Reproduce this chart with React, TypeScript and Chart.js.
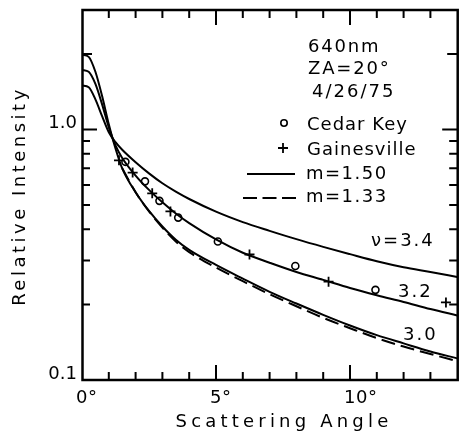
import React, { useEffect, useRef } from "react";
import { Chart, registerables } from "chart.js";

Chart.register(...registerables);

// Scattering angle (degrees) at which the model curves are tabulated
const angles = [0, 0.25, 0.5, 0.75, 1, 1.25, 1.5, 2, 2.5, 3, 3.5, 4, 5, 6, 7, 8, 9, 10, 11, 12, 13, 14];

// Model curves, refractive index m = 1.50, Junge exponent nu
const nu30 = [1.99, 1.95, 1.7, 1.36, 1.05, 0.84, 0.7, 0.562, 0.473, 0.41, 0.363, 0.331, 0.288, 0.254, 0.225, 0.202, 0.182, 0.165, 0.151, 0.14, 0.13, 0.122];
const nu32 = [1.73, 1.7, 1.52, 1.26, 1.02, 0.864, 0.77, 0.655, 0.574, 0.512, 0.462, 0.423, 0.364, 0.322, 0.294, 0.27, 0.251, 0.233, 0.218, 0.205, 0.192, 0.181];
const nu34 = [1.5, 1.475, 1.32, 1.13, 0.975, 0.89, 0.83, 0.74, 0.668, 0.61, 0.565, 0.528, 0.47, 0.427, 0.394, 0.365, 0.34, 0.318, 0.298, 0.282, 0.27, 0.258];

// Model curve, m = 1.33, nu = 3.0
const m133Angles = [1.5, 2, 2.5, 3, 3.5, 4, 5, 6, 7, 8, 9, 10, 11, 12, 13, 14];
const m133nu30 = [0.7, 0.562, 0.471, 0.406, 0.357, 0.324, 0.281, 0.248, 0.22, 0.197, 0.177, 0.161, 0.147, 0.136, 0.127, 0.119];

// Measurements
const cedarKeyAngles = [1.62, 2.35, 2.89, 3.59, 5.07, 7.96, 10.95];
const cedarKeyValues = [0.743, 0.621, 0.519, 0.445, 0.357, 0.285, 0.229];
const gainesvilleAngles = [1.38, 1.89, 2.62, 3.3, 6.25, 9.2, 13.58];
const gainesvilleValues = [0.753, 0.673, 0.556, 0.471, 0.317, 0.247, 0.204];

// Axis ticks and labels
const xTicks = [1, 2, 3, 4, 5, 6, 7, 8, 9, 10, 11, 12, 13];
const xMajorTicks = [5, 10];
const xTickLabels = [0, 5, 10];
const yTicks = [0.2, 0.3, 0.4, 0.5, 0.6, 0.7, 0.8, 0.9, 1, 2];
const yMajorTicks = [1];
const yTickLabels = [0.1, 1];

const FONT = '"DejaVu Sans", sans-serif';

const pairs = (xs: number[], ys: number[]) => xs.map((x, i) => ({ x, y: ys[i] }));

function text(
  ctx: CanvasRenderingContext2D,
  s: string,
  x: number,
  y: number,
  size = 18,
  spacing = 1,
  align: CanvasTextAlign = "left"
) {
  ctx.font = `${size}px ${FONT}`;
  (ctx as any).letterSpacing = `${spacing}px`;
  ctx.textAlign = align;
  ctx.textBaseline = "alphabetic";
  ctx.fillStyle = "#000";
  ctx.fillText(s, x, y);
}

const frameAndText = {
  id: "frameAndText",
  afterDraw(chart: any) {
    const ctx: CanvasRenderingContext2D = chart.ctx;
    const { left, right, top, bottom } = chart.chartArea;
    const xs = chart.scales.x;
    const ys = chart.scales.y;
    ctx.save();
    ctx.strokeStyle = "#000";
    ctx.lineCap = "butt";

    // frame
    ctx.lineWidth = 2.5;
    ctx.strokeRect(left + 0.5, top, right - left, bottom - top);

    // inward ticks on all four sides
    ctx.lineWidth = 2;
    ctx.beginPath();
    for (const t of xTicks) {
      const px = xs.getPixelForValue(t);
      const len = xMajorTicks.includes(t) ? 15 : 8;
      ctx.moveTo(px, bottom);
      ctx.lineTo(px, bottom - len);
      ctx.moveTo(px, top);
      ctx.lineTo(px, top + len);
    }
    for (const t of yTicks) {
      const py = ys.getPixelForValue(t);
      const len = yMajorTicks.includes(t) ? 15 : t > 1 ? 10 : 8;
      ctx.moveTo(left, py);
      ctx.lineTo(left + len, py);
      ctx.moveTo(right, py);
      ctx.lineTo(right - len, py);
    }
    ctx.stroke();

    // tick labels
    for (const v of xTickLabels) {
      text(ctx, `${v}°`, xs.getPixelForValue(v) - 6, 403, 18, 0.5);
    }
    for (const v of yTickLabels) {
      text(ctx, v.toFixed(1), 77, ys.getPixelForValue(v) - 1.5, 18, 0, "right");
    }

    // axis titles
    text(ctx, "Scattering Angle", 284, 426.5, 18, 4.2, "center");
    ctx.save();
    ctx.translate(25, 196);
    ctx.rotate(-Math.PI / 2);
    text(ctx, "Relative Intensity", 0, 0, 18, 3.5, "center");
    ctx.restore();

    // header and key
    text(ctx, "640nm", 308, 51.5, 18, 1.8);
    text(ctx, "ZA=20°", 308, 74, 18, 1.8);
    text(ctx, "4/26/75", 312, 97, 18, 2);
    text(ctx, "Cedar Key", 307, 129.5, 18, 1);
    text(ctx, "Gainesville", 307, 154.5, 18, 1);
    text(ctx, "m=1.50", 306, 178.5, 18, 1.5);
    text(ctx, "m=1.33", 306, 201.5, 18, 1.5);

    ctx.lineWidth = 1.6;
    ctx.beginPath();
    ctx.arc(284, 123, 3.2, 0, Math.PI * 2);
    ctx.stroke();
    ctx.lineWidth = 1.8;
    ctx.beginPath();
    ctx.moveTo(278, 148);
    ctx.lineTo(288, 148);
    ctx.moveTo(283, 143);
    ctx.lineTo(283, 153);
    ctx.stroke();

    ctx.lineWidth = 2;
    ctx.beginPath();
    ctx.moveTo(247, 174);
    ctx.lineTo(295, 174);
    ctx.stroke();
    ctx.setLineDash([14, 5.5]);
    ctx.beginPath();
    ctx.moveTo(243, 198);
    ctx.lineTo(298, 198);
    ctx.stroke();
    ctx.setLineDash([]);

    // curve labels
    text(ctx, "ν=3.4", 371, 246, 18, 2);
    text(ctx, "3.2", 398, 297, 18, 2);
    text(ctx, "3.0", 403, 340, 18, 2);

    ctx.restore();
  },
};

export default function App() {
  const ref = useRef<HTMLCanvasElement>(null);

  useEffect(() => {
    if (!ref.current) return;
    const curve = (data: { x: number; y: number }[], dash: number[] = []) => ({
      data,
      showLine: true,
      borderColor: "#000",
      borderWidth: 2,
      borderDash: dash,
      pointRadius: 0,
      cubicInterpolationMode: "monotone" as const,
      fill: false,
    });
    const chart = new Chart(ref.current, {
      type: "scatter",
      data: {
        datasets: [
          curve(pairs(angles, nu30)),
          curve(pairs(angles, nu32)),
          curve(pairs(angles, nu34)),
          curve(pairs(m133Angles, m133nu30), [14, 6]),
          {
            data: pairs(cedarKeyAngles, cedarKeyValues),
            showLine: false,
            pointStyle: "circle",
            pointRadius: 3.5,
            pointBorderWidth: 1.6,
            pointBorderColor: "#000",
            pointBackgroundColor: "#fff",
          },
          {
            data: pairs(gainesvilleAngles, gainesvilleValues),
            showLine: false,
            pointStyle: "cross",
            pointRadius: 5,
            pointBorderWidth: 1.8,
            pointBorderColor: "#000",
          },
        ],
      },
      options: {
        animation: false,
        responsive: false,
        devicePixelRatio: 1,
        layout: { padding: { top: 10, right: 2, left: 0, bottom: 0 } },
        plugins: { legend: { display: false }, tooltip: { enabled: false } },
        scales: {
          x: {
            type: "linear",
            min: 0,
            max: 14,
            grid: { display: false },
            border: { display: false },
            ticks: { display: false },
            afterFit: (s: any) => {
              s.height = 51;
            },
          },
          y: {
            type: "logarithmic",
            min: 0.1,
            max: 3,
            grid: { display: false },
            border: { display: false },
            ticks: { display: false },
            afterFit: (s: any) => {
              s.width = 82;
            },
          },
        },
      },
      plugins: [frameAndText],
    });
    return () => chart.destroy();
  }, []);

  return (
    <div style={{ position: "fixed", left: 0, top: 0, width: 461, height: 431, overflow: "hidden", background: "#fff" }}>
      <canvas ref={ref} width={464} height={431} style={{ display: "block" }} />
    </div>
  );
}
